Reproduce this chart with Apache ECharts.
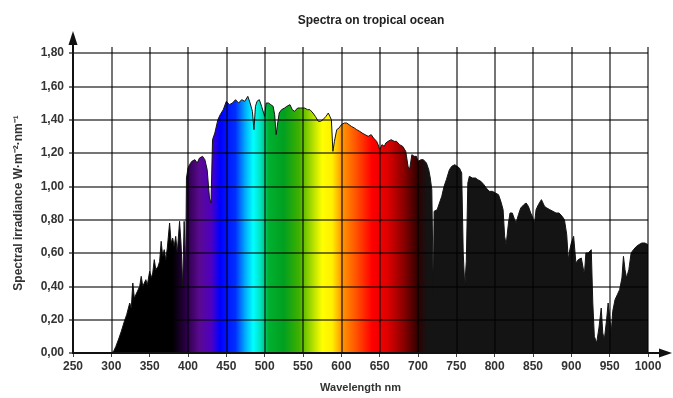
<!DOCTYPE html>
<html>
<head>
<meta charset="utf-8">
<script src="https://cdn.jsdelivr.net/npm/echarts@6/dist/echarts.min.js"></script>
<style>
  html, body { margin: 0; padding: 0; background: #ffffff; }
  #chart { width: 673px; height: 398px; }
</style>
</head>
<body>
<div id="chart"></div>
<script>
// Solar spectral irradiance at sea level over a tropical ocean
const wavelengths = [
  300, 303, 306, 310, 313, 317, 320, 324, 326, 328, 330, 333, 335, 337, 339, 341, 343, 345, 347, 350,
  352, 354, 356, 358, 361, 363, 365, 367, 369, 371, 373, 376, 378, 380, 382, 384, 386, 389, 391, 393,
  395, 397, 398, 400, 402, 405, 409, 412, 415, 419, 422, 425, 428, 430, 432, 435, 439, 442, 446, 450,
  454, 458, 462, 466, 470, 474, 478, 481, 484, 486, 488, 490, 493, 496, 498, 500, 502, 505, 508, 511,
  513, 515, 517, 519, 522, 526, 529, 533, 536, 539, 543, 547, 552, 556, 559, 563, 566, 570, 573, 576,
  580, 583, 585, 587, 589, 591, 594, 597, 600, 604, 607, 610, 613, 617, 620, 624, 627, 631, 635, 639,
  642, 646, 648, 650, 653, 656, 658, 661, 665, 669, 672, 676, 680, 684, 687, 689, 692, 695, 698, 700,
  704, 707, 711, 714, 716, 718, 720, 721, 725, 728, 731, 734, 737, 741, 744, 748, 751, 754, 757, 759,
  761, 763, 765, 767, 771, 775, 778, 782, 786, 789, 793, 797, 801, 805, 808, 811, 813, 815, 818, 820,
  823, 826, 828, 831, 834, 838, 841, 844, 847, 849, 852, 854, 857, 861, 865, 868, 872, 876, 880, 884,
  888, 891, 894, 896, 898, 900, 903, 906, 909, 913, 917, 919, 922, 926, 928, 930, 933, 936, 939, 941,
  943, 946, 948, 950, 952, 954, 957, 960, 963, 966, 968, 970, 972, 975, 978, 981, 985, 988, 992, 996,
  1000
];

const irradiance = [
  0.00, 0.01, 0.04, 0.09, 0.13, 0.19, 0.23, 0.30, 0.27, 0.42, 0.33, 0.36, 0.35, 0.40, 0.46, 0.40, 0.42, 0.44, 0.41, 0.49,
  0.45, 0.48, 0.56, 0.50, 0.52, 0.55, 0.67, 0.58, 0.62, 0.56, 0.63, 0.78, 0.66, 0.69, 0.64, 0.70, 0.60, 0.79, 0.65, 0.40,
  0.79, 0.50, 1.05, 1.11, 1.13, 1.15, 1.16, 1.14, 1.17, 1.18, 1.16, 1.10, 0.93, 0.90, 1.28, 1.32, 1.40, 1.43, 1.46, 1.51,
  1.49, 1.50, 1.52, 1.50, 1.52, 1.51, 1.54, 1.50, 1.45, 1.34, 1.48, 1.51, 1.52, 1.48, 1.47, 1.42, 1.50, 1.50, 1.49, 1.48,
  1.43, 1.31, 1.38, 1.44, 1.46, 1.47, 1.48, 1.49, 1.46, 1.45, 1.47, 1.47, 1.47, 1.46, 1.46, 1.44, 1.42, 1.39, 1.39, 1.40,
  1.42, 1.44, 1.42, 1.40, 1.21, 1.27, 1.34, 1.35, 1.37, 1.38, 1.38, 1.37, 1.36, 1.35, 1.34, 1.33, 1.32, 1.31, 1.30, 1.31,
  1.29, 1.27, 1.25, 1.22, 1.25, 1.24, 1.26, 1.27, 1.28, 1.27, 1.27, 1.25, 1.24, 1.21, 1.12, 1.10, 1.19, 1.18, 1.18, 1.15,
  1.16, 1.16, 1.14, 1.10, 1.05, 0.98, 0.35, 0.85, 0.86, 0.90, 0.94, 1.00, 1.04, 1.10, 1.12, 1.13, 1.12, 1.11, 1.08, 0.60,
  0.40, 0.55, 1.02, 1.06, 1.05, 1.05, 1.04, 1.03, 1.01, 0.99, 0.97, 0.97, 0.96, 0.95, 0.91, 0.86, 0.70, 0.65, 0.78, 0.84,
  0.84, 0.80, 0.78, 0.83, 0.87, 0.89, 0.90, 0.88, 0.84, 0.82, 0.78, 0.86, 0.89, 0.92, 0.88, 0.87, 0.86, 0.85, 0.84, 0.84,
  0.82, 0.80, 0.71, 0.56, 0.62, 0.66, 0.70, 0.54, 0.56, 0.57, 0.47, 0.60, 0.60, 0.62, 0.30, 0.10, 0.06, 0.15, 0.27, 0.12,
  0.08, 0.20, 0.30, 0.22, 0.12, 0.25, 0.32, 0.35, 0.38, 0.45, 0.58, 0.50, 0.45, 0.50, 0.60, 0.62, 0.64, 0.65, 0.66, 0.66,
  0.65
];

// Axis ranges and tick steps
const xRange = [250, 1000];
const xStep = 50;
const yRange = [0, 1.8];
const yStep = 0.2;

// Colour of the fill at each wavelength (nm)
const spectrumStops = [
  [300, '#000000'], [380, '#000000'], [400, '#300050'], [415, '#5a0a90'], [430, '#5000c0'],
  [442, '#0000ff'], [462, '#0030ff'], [475, '#00b0ff'], [485, '#00ffff'], [495, '#00e0c0'],
  [505, '#00b030'], [525, '#00a020'], [545, '#40b000'], [560, '#a0d800'], [575, '#ffff00'],
  [588, '#fff000'], [600, '#ff9a00'], [620, '#ff5000'], [640, '#ff0000'], [660, '#e00000'],
  [680, '#900000'], [700, '#300000'], [712, '#141414'], [1000, '#141414']
];

const lo = wavelengths[0], hi = wavelengths[wavelengths.length - 1];
const fill = new echarts.graphic.LinearGradient(0, 0, 1, 0,
  spectrumStops.map(([nm, color]) => ({ offset: (nm - lo) / (hi - lo), color })));

const points = wavelengths.map((nm, i) => [nm, irradiance[i]]);
const comma = v => v.toFixed(2).replace('.', ',');
const gridColor = 'rgba(0,0,0,0.72)';
const labelFont = { color: '#333333', fontFamily: 'Liberation Sans', fontWeight: 'bold', fontSize: 12 };

const chart = echarts.init(document.getElementById('chart'), null, { renderer: 'canvas' });

chart.setOption({
  animation: false,
  backgroundColor: '#ffffff',
  title: {
    text: 'Spectra on tropical ocean',
    left: 366, top: 10, textAlign: 'center',
    textStyle: { color: '#222222', fontFamily: 'Liberation Sans', fontWeight: 'bold', fontSize: 12 }
  },
  grid: { left: 73, right: 25, top: 53, bottom: 40.5, containLabel: false },
  xAxis: [{
    type: 'value', min: xRange[0], max: xRange[1], interval: xStep, z: 5,
    name: 'Wavelength nm', nameLocation: 'middle', nameGap: 29,
    nameTextStyle: Object.assign({}, labelFont, { fontSize: 11 }),
    axisLine: { show: false },
    axisTick: { show: true, length: 4, lineStyle: { color: '#444', width: 1 } },
    axisLabel: Object.assign({ margin: 8, formatter: v => String(v) }, labelFont),
    splitLine: { show: true, lineStyle: { color: gridColor, width: 1.5 } }
  }, {
    type: 'value', min: xRange[0], max: xRange[1], interval: xStep, position: 'top', z: 5,
    axisLine: { show: false },
    axisTick: { show: true, length: 6, lineStyle: { color: gridColor, width: 1.5 } },
    axisLabel: { show: false },
    splitLine: { show: false }
  }],
  yAxis: {
    type: 'value', min: yRange[0], max: yRange[1], interval: yStep, z: 5,
    name: 'Spectral irradiance W·m⁻²·nm⁻¹', nameLocation: 'middle', nameGap: 48, nameRotate: 90,
    nameTextStyle: Object.assign({}, labelFont, { fontSize: 12 }),
    axisLine: { show: false },
    axisTick: { show: true, length: 4, lineStyle: { color: gridColor, width: 1.5 } },
    axisLabel: Object.assign({ margin: 9, formatter: comma }, labelFont),
    splitLine: { show: true, lineStyle: { color: gridColor, width: 1.5 } }
  },
  series: [{
    type: 'line',
    xAxisIndex: 0,
    data: points,
    symbol: 'none',
    z: 2,
    lineStyle: { color: '#141414', width: 1 },
    areaStyle: { color: fill, opacity: 1 }
  }]
});

// Axis lines with arrowheads, extended past the plotting area
const o = chart.convertToPixel({ gridIndex: 0 }, [xRange[0], yRange[0]]);
const e = chart.convertToPixel({ gridIndex: 0 }, [xRange[1], yRange[1]]);
chart.setOption({
  graphic: [
    { type: 'line', z: 50, shape: { x1: o[0], y1: o[1] + 1, x2: o[0], y2: e[1] - 10 },
      style: { stroke: '#111111', lineWidth: 2 } },
    { type: 'polygon', z: 50, shape: { points: [[o[0], e[1] - 22], [o[0] - 4.5, e[1] - 8], [o[0] + 4.5, e[1] - 8]] },
      style: { fill: '#111111' } },
    { type: 'line', z: 50, shape: { x1: o[0] - 1, y1: o[1], x2: e[0] + 14, y2: o[1] },
      style: { stroke: '#111111', lineWidth: 2 } },
    { type: 'polygon', z: 50, shape: { points: [[e[0] + 24, o[1]], [e[0] + 11, o[1] - 4.5], [e[0] + 11, o[1] + 4.5]] },
      style: { fill: '#111111' } }
  ]
});
</script>
</body>
</html>
